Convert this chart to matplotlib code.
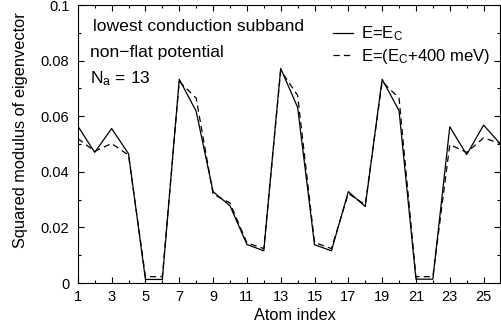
import matplotlib
matplotlib.use("Agg")
import matplotlib.pyplot as plt
from matplotlib.ticker import MultipleLocator, FixedLocator

plt.rcParams['font.family'] = ['Liberation Sans', 'DejaVu Sans']
plt.rcParams['mathtext.fontset'] = 'custom'
plt.rcParams['mathtext.rm'] = 'Liberation Sans'
plt.rcParams['mathtext.it'] = 'Liberation Sans:italic'
plt.rcParams['lines.scale_dashes'] = False

# atom positions along the chain
atoms = list(range(1, 27))

# squared modulus, E = E_C
psi_ec = [0.0565, 0.0470, 0.0556, 0.0465, 0.0013, 0.0013, 0.0733, 0.0618,
          0.0329, 0.0278, 0.0139, 0.0116, 0.0772, 0.0632, 0.0138, 0.0116,
          0.0329, 0.0275, 0.0733, 0.0620, 0.0014, 0.0014, 0.0562, 0.0462,
          0.0568, 0.0500]

# squared modulus, E = E_C + 400 meV
psi_ec400 = [0.0520, 0.0474, 0.0502, 0.0460, 0.0023, 0.0023, 0.0725, 0.0665,
             0.0320, 0.0288, 0.0145, 0.0124, 0.0765, 0.0675, 0.0146, 0.0124,
             0.0322, 0.0282, 0.0725, 0.0665, 0.0023, 0.0023, 0.0498, 0.0470,
             0.0522, 0.0502]

xticks = [1, 3, 5, 7, 9, 11, 13, 15, 17, 19, 21, 23, 25]
yticks = [0, 0.02, 0.04, 0.06, 0.08, 0.1]
ytick_labels = ['0', '0.02', '0.04', '0.06', '0.08', '0.1']

fig = plt.figure(figsize=(5.02, 3.35), dpi=100)
ax = fig.add_axes([0.155, 0.155, 0.842, 0.83])

ax.plot(atoms, psi_ec, color='black', lw=0.9, label=r'E=E$_\mathrm{C}$')
ax.plot(atoms, psi_ec400, color='black', lw=0.9, dashes=(4.5, 3),
        label=r'E=(E$_\mathrm{C}$+400 meV)')

ax.set_xlim(1, 26)
ax.set_ylim(0, 0.1)
ax.xaxis.set_major_locator(FixedLocator(xticks))
ax.xaxis.set_minor_locator(MultipleLocator(1))
ax.yaxis.set_major_locator(FixedLocator(yticks))
ax.yaxis.set_minor_locator(MultipleLocator(0.01))
ax.set_yticklabels(ytick_labels)

ax.tick_params(which='both', direction='in', top=True, right=True, width=0.8,
               labelsize=10.5)
ax.tick_params(which='major', length=4.5)
ax.tick_params(which='minor', length=2.5)
ax.tick_params(axis='x', pad=5)
ax.tick_params(axis='y', pad=6)
for s in ax.spines.values():
    s.set_linewidth(0.8)

ax.set_xlabel('Atom index', fontsize=11.75)
ax.xaxis.set_label_coords(0.514, -0.088)
ax.set_ylabel('Squared modulus of eigenvector', fontsize=11.75)
ax.yaxis.set_label_coords(-0.118, 0.55)

ax.text(0.035, 0.921, 'lowest conduction subband', transform=ax.transAxes,
        fontsize=12.6, va='center')
ax.text(0.028, 0.831, 'non\u2212flat potential', transform=ax.transAxes,
        fontsize=12.6, va='center')
ax.text(0.028, 0.737, r'N$_\mathrm{a}$ = 13', transform=ax.transAxes,
        fontsize=12.6, va='center')

ax.legend(loc='upper right', bbox_to_anchor=(1.0, 0.965), frameon=False,
          fontsize=12, handlelength=1.2, handletextpad=0.5, labelspacing=0.2,
          borderaxespad=0.2)

fig.savefig('out.png', dpi=100)
